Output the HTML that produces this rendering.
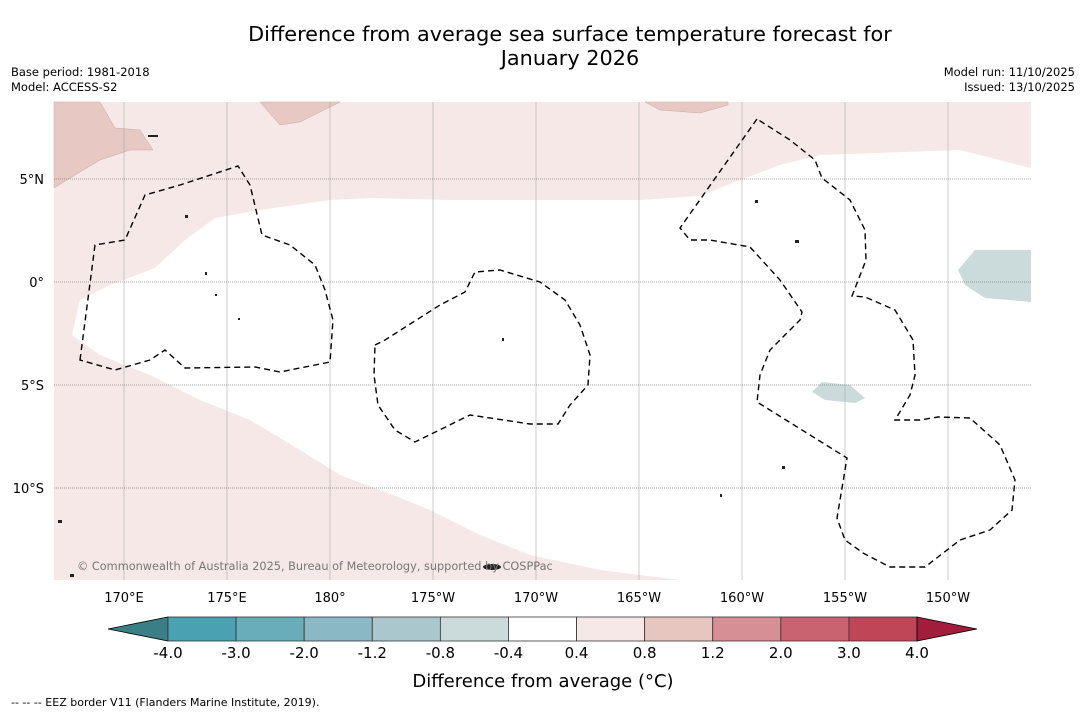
<!DOCTYPE html>
<html><head><meta charset="utf-8"><style>
body{margin:0;width:1085px;height:713px;background:#fff;font-family:"DejaVu Sans","Liberation Sans",sans-serif;overflow:hidden;position:relative}
.t{position:absolute;color:#000;white-space:nowrap}
</style></head><body>
<div class="t" style="left:0;width:1140px;text-align:center;top:22px;font-size:20.8px;line-height:24px">Difference from average sea surface temperature forecast for<br>January 2026</div>
<div class="t" style="left:11px;top:65px;font-size:11.5px;line-height:15px">Base period: 1981-2018<br>Model: ACCESS-S2</div>
<div class="t" style="right:10px;top:65px;font-size:11.5px;line-height:15px;text-align:right">Model run: 11/10/2025<br>Issued: 13/10/2025</div>
<svg id="s" width="1085" height="713" style="position:absolute;left:0;top:0" font-family="DejaVu Sans, Liberation Sans, sans-serif">
<g>
<rect x="54" y="102" width="977" height="478" fill="#f5e8e6"/>
<path fill="#fff" d="M72,335 L80,300 L110,285 L155,268 L185,240 L215,218 L260,210 L330,200 L370,198 L450,200 L640,200 L700,196 L740,180 L780,165 L820,155 L960,150 L1031,168 L1031,580 L680,580 L600,570 L530,555 L480,535 L430,510 L380,490 L340,475 L300,450 L250,420 L200,400 L150,375 L100,355 Z"/>
<path fill="#e8c8c2" stroke="#c9a8a2" stroke-width="0.5" d="M54,102 L54,188 L80,172 L100,160 L130,150 L153,150 L140,130 L115,128 L100,102 Z"/>
<path fill="#e8c8c2" stroke="#c9a8a2" stroke-width="0.5" d="M260,102 L280,125 L300,122 L340,102 Z"/>
<path fill="#e8c8c2" stroke="#c9a8a2" stroke-width="0.5" d="M645,102 L660,110 L700,113 L728,105 L728,102 Z"/>
<path fill="#cbdbdb" d="M958,270 L975,250 L1031,250 L1031,302 L985,298 L965,285 Z"/>
<path fill="#cbdbdb" d="M812,392 L822,382 L850,385 L865,398 L855,403 L825,400 Z"/>
<g id="grid" stroke-width="0.6"></g>
<g fill="none" stroke="#000" stroke-width="1.4" stroke-dasharray="6,4">
<path d="M80,360 L95,245 L125,240 L145,195 L180,185 L238,166 L250,185 L262,235 L290,245 L315,265 L325,290 L333,320 L330,362 L280,372 L255,367 L185,368 L165,350 L150,360 L115,370 Z"/>
<path d="M375,345 L385,340 L440,305 L465,292 L475,272 L500,270 L540,282 L565,300 L580,325 L590,355 L588,385 L570,405 L558,424 L530,424 L470,415 L415,442 L395,430 L378,405 L374,375 Z"/>
<path d="M757,119 L680,228 L690,240 L710,240 L750,247 L780,280 L802,312 L800,320 L770,350 L760,375 L757,402 L847,458 L837,518 L845,540 L863,553 L890,567 L925,567 L960,540 L990,530 L1012,510 L1015,480 L1000,445 L970,418 L938,417 L920,420 L895,420 L910,395 L915,375 L913,340 L895,310 L865,297 L852,296 L866,260 L865,230 L850,200 L822,178 L815,160 L790,140 Z"/>
</g>
<g fill="#222">
<rect x="185" y="215" width="3" height="3"/><rect x="215" y="294" width="2" height="2"/><rect x="238" y="318" width="2" height="2"/><rect x="502" y="338" width="2" height="3"/><rect x="755" y="200" width="3" height="3"/><rect x="795" y="240" width="4" height="3"/><rect x="782" y="466" width="3" height="3"/><rect x="720" y="494" width="2" height="3"/><ellipse cx="492" cy="567" rx="9" ry="3"/><rect x="58" y="520" width="4" height="3"/><rect x="70" y="574" width="4" height="3"/><rect x="205" y="272" width="2" height="3"/><rect x="148" y="135" width="10" height="2"/>
</g>
<text x="77" y="570" font-size="11.3" fill="#777">© Commonwealth of Australia 2025, Bureau of Meteorology, supported by COSPPac</text>
</g>
<g id="ticks" font-size="13"></g>
<g id="cbar"></g>
<text x="543" y="687" font-size="18" text-anchor="middle">Difference from average (°C)</text>
<text x="11" y="706" font-size="11">--  --  -- EEZ border V11 (Flanders Marine Institute, 2019).</text>
</svg>
<script>
const lonLabels=["170°E","175°E","180°","175°W","170°W","165°W","160°W","155°W","150°W"];
const lonVals=[170,175,180,185,190,195,200,205,210];
const latLabels=["5°N","0°","5°S","10°S"];
const latVals=[5,0,-5,-10];
const cbLabels=["-4.0","-3.0","-2.0","-1.2","-0.8","-0.4","0.4","0.8","1.2","2.0","3.0","4.0"];
const cbColors=["#4aa1b1","#69adbb","#8ab8c4","#a9c7cc","#cbdbdb","#ffffff","#f5e8e6","#e8c6c0","#d68f95","#c8636f","#bd4757"];
const cbLow="#3b7f86", cbHigh="#a21d3b";
const NS="http://www.w3.org/2000/svg";
const xL=lon=>124+(lon-170)*20.6, yL=lat=>282-lat*20.6;
const grid=document.getElementById('grid'),tk=document.getElementById('ticks'),cb=document.getElementById('cbar');
function mk(p,tag,a){const e=document.createElementNS(NS,tag);for(const k in a)e.setAttribute(k,a[k]);p.appendChild(e);return e;}
lonVals.forEach((v,i)=>{const x=xL(v);
const l=mk(grid,'line',{x1:x,x2:x,y1:102,y2:580,stroke:'#aaa'});


const t=mk(tk,'text',{x:x,y:602,'text-anchor':'middle'});t.textContent=lonLabels[i];

});
latVals.forEach((v,i)=>{const y=yL(v);
const l=mk(grid,'line',{x1:54,x2:1031,y1:y,y2:y,stroke:'#555','stroke-dasharray':'1,1'});


const t=mk(tk,'text',{x:44,y:y+5,'text-anchor':'end'});t.textContent=latLabels[i];

});
const x0=168,w=(917-168)/cbColors.length,y0=617,h=24;
const lt=mk(cb,'polygon',{points:`108,${y0+h/2} ${x0},${y0} ${x0},${y0+h}`,fill:cbLow,stroke:'#000','stroke-width':0.8});


cbColors.forEach((c,i)=>{const r=mk(cb,'rect',{x:x0+i*w,y:y0,width:w,height:h,fill:c,stroke:'#333','stroke-width':0.8});

});
const ht=mk(cb,'polygon',{points:`917,${y0} 977,${y0+h/2} 917,${y0+h}`,fill:cbHigh,stroke:'#000','stroke-width':0.8});


cbLabels.forEach((s,i)=>{const t=mk(cb,'text',{x:x0+i*w,y:658,'text-anchor':'middle','font-size':15});t.textContent=s;

});
</script>
</body></html>
